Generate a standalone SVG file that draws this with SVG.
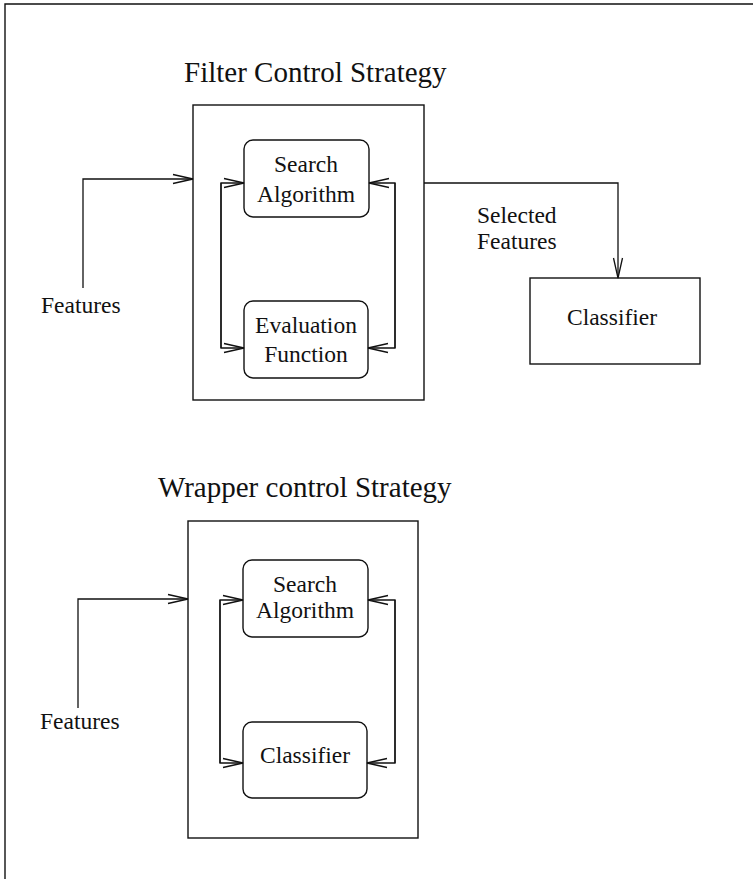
<svg xmlns="http://www.w3.org/2000/svg" width="753" height="879" viewBox="0 0 753 879">
  <style>
    .frame { fill: none; stroke: #111; stroke-width: 1.4; }
    .box { fill: #fff; stroke: #111; stroke-width: 1.4; }
    .edge { fill: none; stroke: #111; stroke-width: 1.3; }
    .title { font-family: "Liberation Serif", "Times New Roman", serif; font-size: 29px; fill: #111; }
    .label { font-family: "Liberation Serif", "Times New Roman", serif; font-size: 23.5px; fill: #111; }
    .mid { text-anchor: middle; }
  </style>
  <defs>
    <marker id="open" markerUnits="userSpaceOnUse" markerWidth="24" markerHeight="12" viewBox="-22 -6 24 12" refX="0" refY="0" orient="auto">
      <path d="M -20 -4.5 L 0 0 L -20 4.5" fill="none" stroke="#111" stroke-width="1.3"/>
    </marker>
  </defs>

  <rect width="753" height="879" fill="#fff"/>

  <!-- page border: top and left rule -->
  <path class="frame" d="M 5 879 L 5 4 L 753 4"/>

  <!-- ===== Filter control strategy ===== -->
  <text class="title" x="184" y="82">Filter Control Strategy</text>

  <g id="filter-container">
    <rect class="frame" x="193" y="105" width="231" height="295"/>
  </g>
  <g id="filter-search">
    <rect class="box" x="244" y="140" width="125" height="77" rx="9"/>
    <text class="label mid" x="306" y="172">Search</text>
    <text class="label mid" x="306" y="202">Algorithm</text>
  </g>
  <g id="filter-evaluation">
    <rect class="box" x="244" y="301" width="124" height="77" rx="9"/>
    <text class="label mid" x="306" y="333">Evaluation</text>
    <text class="label mid" x="306" y="362">Function</text>
  </g>
  <g id="filter-classifier">
    <rect class="box" x="530" y="278" width="170" height="86"/>
    <text class="label mid" x="612" y="325">Classifier</text>
  </g>
  <g id="filter-features">
    <text class="label" x="41" y="313">Features</text>
  </g>
  <g id="filter-selected">
    <text class="label" x="477" y="223">Selected</text>
    <text class="label" x="477" y="249">Features</text>
  </g>

  <!-- ===== Wrapper control strategy ===== -->
  <text class="title" x="158" y="497">Wrapper control Strategy</text>

  <g id="wrapper-container">
    <rect class="frame" x="188" y="521" width="230" height="317"/>
  </g>
  <g id="wrapper-search">
    <rect class="box" x="243" y="560" width="125" height="77" rx="9"/>
    <text class="label mid" x="305" y="592">Search</text>
    <text class="label mid" x="305" y="618">Algorithm</text>
  </g>
  <g id="wrapper-classifier">
    <rect class="box" x="243" y="722" width="124" height="76" rx="9"/>
    <text class="label mid" x="305" y="763">Classifier</text>
  </g>
  <g id="wrapper-features">
    <text class="label" x="40" y="729">Features</text>
  </g>

  <!-- connectors -->
  <g id="connectors">
    <!-- filter -->
    <path class="edge" d="M 83 288 L 83 179 L 193 179" marker-end="url(#open)"/>
    <path class="edge" d="M 221 348 L 221 183 L 244 183" marker-end="url(#open)"/>
    <path class="edge" d="M 221 183 L 221 348 L 244 348" marker-end="url(#open)"/>
    <path class="edge" d="M 395 348 L 395 183 L 369 183" marker-end="url(#open)"/>
    <path class="edge" d="M 395 183 L 395 348 L 368 348" marker-end="url(#open)"/>
    <path class="edge" d="M 424 183 L 618 183 L 618 278" marker-end="url(#open)"/>
    <!-- wrapper -->
    <path class="edge" d="M 78 708 L 78 599 L 188 599" marker-end="url(#open)"/>
    <path class="edge" d="M 220 763 L 220 600 L 243 600" marker-end="url(#open)"/>
    <path class="edge" d="M 220 600 L 220 763 L 243 763" marker-end="url(#open)"/>
    <path class="edge" d="M 395 763 L 395 600 L 368 600" marker-end="url(#open)"/>
    <path class="edge" d="M 395 600 L 395 763 L 367 763" marker-end="url(#open)"/>
  </g>
</svg>
